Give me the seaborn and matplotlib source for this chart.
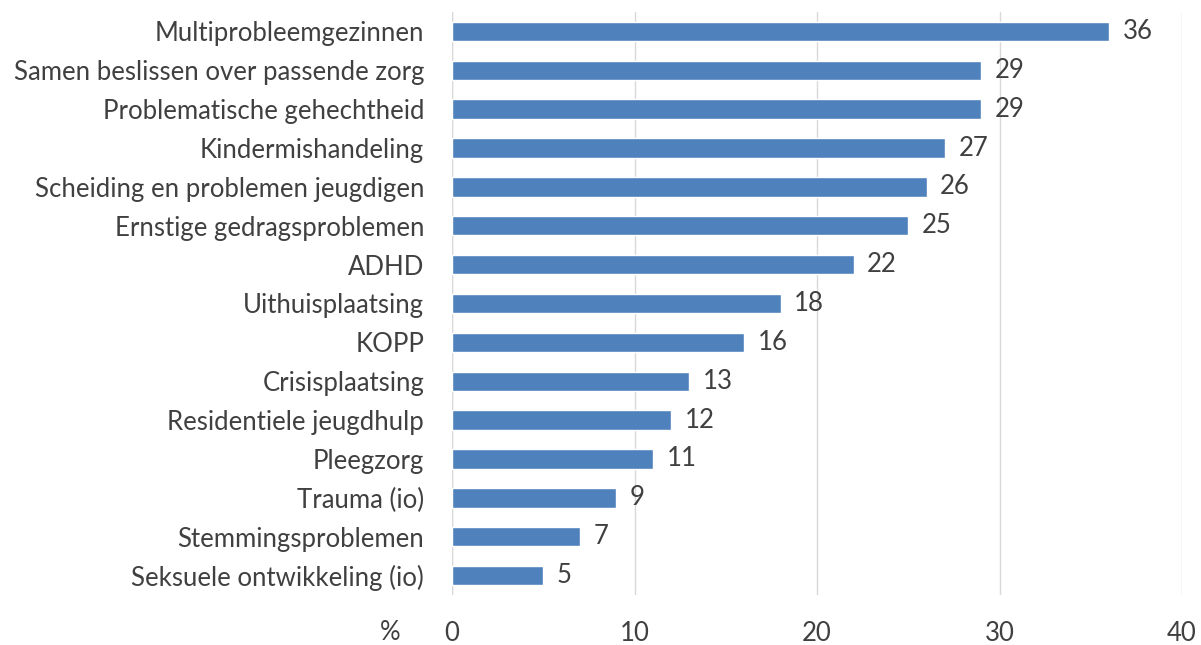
import matplotlib
matplotlib.use("Agg")
import matplotlib.pyplot as plt
import seaborn as sns
import pandas as pd

categories = [
    "Multiprobleemgezinnen",
    "Samen beslissen over passende zorg",
    "Problematische gehechtheid",
    "Kindermishandeling",
    "Scheiding en problemen jeugdigen",
    "Ernstige gedragsproblemen",
    "ADHD",
    "Uithuisplaatsing",
    "KOPP",
    "Crisisplaatsing",
    "Residentiele jeugdhulp",
    "Pleegzorg",
    "Trauma (io)",
    "Stemmingsproblemen",
    "Seksuele ontwikkeling (io)",
]
values = [36, 29, 29, 27, 26, 25, 22, 18, 16, 13, 12, 11, 9, 7, 5]
xticks = [0, 10, 20, 30, 40]

sns.set_theme(style="white")
plt.rcParams["font.family"] = ["Lato", "DejaVu Sans"]

df = pd.DataFrame({"cat": categories, "val": values})

fig = plt.figure(figsize=(12.01, 6.45), dpi=100)
ax = fig.add_axes([452/1201, 1 - 595/645, (1182 - 452)/1201, (595 - 12)/645])

sns.barplot(data=df, x="val", y="cat", orient="h", color="#4F81BD",
            saturation=1, width=0.5, ax=ax)

textc = "#404040"
fs = 18.5
ax.set_xlim(0, 40)
ax.set_ylim(14.5, -0.5)
ax.set_xticks(xticks)
ax.set_xticklabels([str(t) for t in xticks])
ax.xaxis.grid(True, color="#D9D9D9", linewidth=1)
ax.set_axisbelow(True)
for s in ["top", "right", "bottom", "left"]:
    ax.spines[s].set_visible(False)
ax.axvline(0, color="#D9D9D9", linewidth=1, zorder=0)
ax.tick_params(axis="x", length=0, pad=19, labelsize=fs, labelcolor=textc)
ax.tick_params(axis="y", length=0, pad=20, labelsize=fs, labelcolor=textc)
ax.set_xlabel("")
ax.set_ylabel("")

for i, v in enumerate(values):
    ax.text(v + 0.75, i, str(v), va="center", ha="left", fontsize=fs, color=textc)

fig.text(390/1201, 1 - 633/645, "%", ha="center", va="center", fontsize=fs, color=textc)

fig.savefig("out.png", dpi=100)
